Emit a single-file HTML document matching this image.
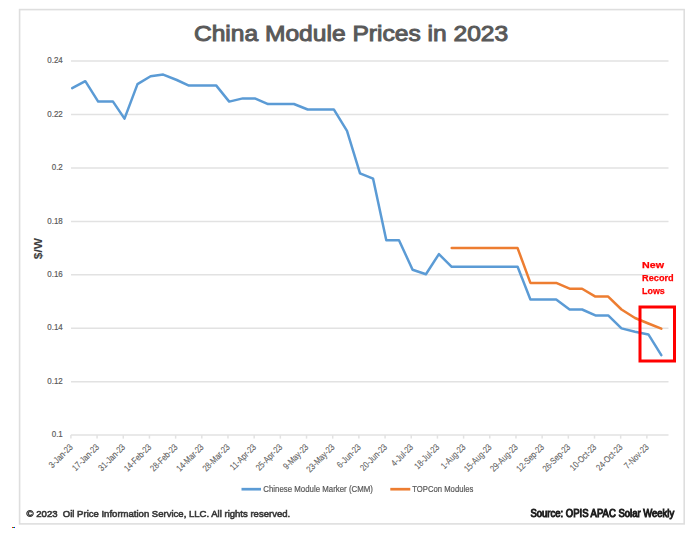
<!DOCTYPE html>
<html><head><meta charset="utf-8"><style>
html,body{margin:0;padding:0;background:#fff;}
body{width:696px;height:533px;overflow:hidden;position:relative;}
svg{position:absolute;left:0;top:0;filter:blur(0.3px);}
text{font-family:"Liberation Sans",sans-serif;}
.g{stroke:#e2e2e2;stroke-width:1.5;}
.yl{font-size:9.6px;fill:#595959;stroke:#595959;stroke-width:0.2px;}
.xl{font-size:9.2px;fill:#606060;stroke:#606060;stroke-width:0.1px;}
.ln{fill:none;stroke-width:2.5;stroke-linejoin:round;stroke-linecap:round;}
</style></head><body>
<svg width="696" height="533" viewBox="0 0 696 533">
<rect x="19.6" y="9.6" width="664.6" height="514.3" fill="#fff" stroke="#dedede" stroke-width="1.6"/>
<text x="193.90" y="41.30" textLength="314.30" lengthAdjust="spacingAndGlyphs" style="font-size:22.4px;fill:#595959;stroke:#595959;stroke-width:1.0px">China Module Prices in 2023</text>
<line x1="71" y1="61.1" x2="668.5" y2="61.1" class="g"/><line x1="71" y1="114.5" x2="668.5" y2="114.5" class="g"/><line x1="71" y1="168.0" x2="668.5" y2="168.0" class="g"/><line x1="71" y1="221.4" x2="668.5" y2="221.4" class="g"/><line x1="71" y1="274.8" x2="668.5" y2="274.8" class="g"/><line x1="71" y1="328.2" x2="668.5" y2="328.2" class="g"/><line x1="71" y1="381.7" x2="668.5" y2="381.7" class="g"/><line x1="70.9" y1="435.1" x2="668.5" y2="435.1" class="g"/>
<line x1="70.90" y1="435.1" x2="70.90" y2="438.6" class="g"/><line x1="97.08" y1="435.1" x2="97.08" y2="438.6" class="g"/><line x1="123.26" y1="435.1" x2="123.26" y2="438.6" class="g"/><line x1="149.44" y1="435.1" x2="149.44" y2="438.6" class="g"/><line x1="175.62" y1="435.1" x2="175.62" y2="438.6" class="g"/><line x1="201.80" y1="435.1" x2="201.80" y2="438.6" class="g"/><line x1="227.98" y1="435.1" x2="227.98" y2="438.6" class="g"/><line x1="254.16" y1="435.1" x2="254.16" y2="438.6" class="g"/><line x1="280.34" y1="435.1" x2="280.34" y2="438.6" class="g"/><line x1="306.52" y1="435.1" x2="306.52" y2="438.6" class="g"/><line x1="332.70" y1="435.1" x2="332.70" y2="438.6" class="g"/><line x1="358.88" y1="435.1" x2="358.88" y2="438.6" class="g"/><line x1="385.06" y1="435.1" x2="385.06" y2="438.6" class="g"/><line x1="411.24" y1="435.1" x2="411.24" y2="438.6" class="g"/><line x1="437.42" y1="435.1" x2="437.42" y2="438.6" class="g"/><line x1="463.60" y1="435.1" x2="463.60" y2="438.6" class="g"/><line x1="489.78" y1="435.1" x2="489.78" y2="438.6" class="g"/><line x1="515.96" y1="435.1" x2="515.96" y2="438.6" class="g"/><line x1="542.14" y1="435.1" x2="542.14" y2="438.6" class="g"/><line x1="568.32" y1="435.1" x2="568.32" y2="438.6" class="g"/><line x1="594.50" y1="435.1" x2="594.50" y2="438.6" class="g"/><line x1="620.68" y1="435.1" x2="620.68" y2="438.6" class="g"/><line x1="646.86" y1="435.1" x2="646.86" y2="438.6" class="g"/>
<text x="47.29" y="63.2" class="yl" textLength="15.51" lengthAdjust="spacingAndGlyphs">0.24</text><text x="47.29" y="116.6" class="yl" textLength="15.51" lengthAdjust="spacingAndGlyphs">0.22</text><text x="51.72" y="170.1" class="yl" textLength="11.08" lengthAdjust="spacingAndGlyphs">0.2</text><text x="47.29" y="223.5" class="yl" textLength="15.51" lengthAdjust="spacingAndGlyphs">0.18</text><text x="47.29" y="276.9" class="yl" textLength="15.51" lengthAdjust="spacingAndGlyphs">0.16</text><text x="47.29" y="330.4" class="yl" textLength="15.51" lengthAdjust="spacingAndGlyphs">0.14</text><text x="47.29" y="383.8" class="yl" textLength="15.51" lengthAdjust="spacingAndGlyphs">0.12</text><text x="51.72" y="437.2" class="yl" textLength="11.08" lengthAdjust="spacingAndGlyphs">0.1</text>
<text transform="translate(42.0,248.6) rotate(-90)" x="-10.6" textLength="21.2" lengthAdjust="spacingAndGlyphs" style="font-size:11.2px;font-weight:bold;fill:#404040">$/W</text>
<text transform="translate(73.40,447.71) rotate(-45)" x="-29.41" y="0" class="xl" textLength="29.41" lengthAdjust="spacingAndGlyphs">3-Jan-23</text><text transform="translate(99.58,447.71) rotate(-45)" x="-33.55" y="0" class="xl" textLength="33.55" lengthAdjust="spacingAndGlyphs">17-Jan-23</text><text transform="translate(125.76,447.71) rotate(-45)" x="-33.55" y="0" class="xl" textLength="33.55" lengthAdjust="spacingAndGlyphs">31-Jan-23</text><text transform="translate(151.94,447.71) rotate(-45)" x="-34.38" y="0" class="xl" textLength="34.38" lengthAdjust="spacingAndGlyphs">14-Feb-23</text><text transform="translate(178.12,447.71) rotate(-45)" x="-34.38" y="0" class="xl" textLength="34.38" lengthAdjust="spacingAndGlyphs">28-Feb-23</text><text transform="translate(204.30,447.71) rotate(-45)" x="-34.37" y="0" class="xl" textLength="34.37" lengthAdjust="spacingAndGlyphs">14-Mar-23</text><text transform="translate(230.48,447.71) rotate(-45)" x="-34.37" y="0" class="xl" textLength="34.37" lengthAdjust="spacingAndGlyphs">28-Mar-23</text><text transform="translate(256.66,447.71) rotate(-45)" x="-32.58" y="0" class="xl" textLength="32.58" lengthAdjust="spacingAndGlyphs">11-Apr-23</text><text transform="translate(282.84,447.71) rotate(-45)" x="-33.13" y="0" class="xl" textLength="33.13" lengthAdjust="spacingAndGlyphs">25-Apr-23</text><text transform="translate(309.02,447.71) rotate(-45)" x="-31.47" y="0" class="xl" textLength="31.47" lengthAdjust="spacingAndGlyphs">9-May-23</text><text transform="translate(335.20,447.71) rotate(-45)" x="-35.62" y="0" class="xl" textLength="35.62" lengthAdjust="spacingAndGlyphs">23-May-23</text><text transform="translate(361.38,447.71) rotate(-45)" x="-29.41" y="0" class="xl" textLength="29.41" lengthAdjust="spacingAndGlyphs">6-Jun-23</text><text transform="translate(387.56,447.71) rotate(-45)" x="-33.55" y="0" class="xl" textLength="33.55" lengthAdjust="spacingAndGlyphs">20-Jun-23</text><text transform="translate(413.74,447.71) rotate(-45)" x="-26.92" y="0" class="xl" textLength="26.92" lengthAdjust="spacingAndGlyphs">4-Jul-23</text><text transform="translate(439.92,447.71) rotate(-45)" x="-31.06" y="0" class="xl" textLength="31.06" lengthAdjust="spacingAndGlyphs">18-Jul-23</text><text transform="translate(466.10,447.71) rotate(-45)" x="-30.65" y="0" class="xl" textLength="30.65" lengthAdjust="spacingAndGlyphs">1-Aug-23</text><text transform="translate(492.28,447.71) rotate(-45)" x="-34.80" y="0" class="xl" textLength="34.80" lengthAdjust="spacingAndGlyphs">15-Aug-23</text><text transform="translate(518.46,447.71) rotate(-45)" x="-34.80" y="0" class="xl" textLength="34.80" lengthAdjust="spacingAndGlyphs">29-Aug-23</text><text transform="translate(544.64,447.71) rotate(-45)" x="-34.80" y="0" class="xl" textLength="34.80" lengthAdjust="spacingAndGlyphs">12-Sep-23</text><text transform="translate(570.82,447.71) rotate(-45)" x="-34.80" y="0" class="xl" textLength="34.80" lengthAdjust="spacingAndGlyphs">26-Sep-23</text><text transform="translate(597.00,447.71) rotate(-45)" x="-33.13" y="0" class="xl" textLength="33.13" lengthAdjust="spacingAndGlyphs">10-Oct-23</text><text transform="translate(623.18,447.71) rotate(-45)" x="-33.13" y="0" class="xl" textLength="33.13" lengthAdjust="spacingAndGlyphs">24-Oct-23</text><text transform="translate(649.36,447.71) rotate(-45)" x="-30.65" y="0" class="xl" textLength="30.65" lengthAdjust="spacingAndGlyphs">7-Nov-23</text>
<path d="M72.2,88.1 L85.3,81.2 L98.2,101.6 L113.0,101.6 L124.5,118.6 L137.5,84.1 L150.6,76.2 L163.2,74.6 L176.8,80.0 L188.9,85.6 L203.0,85.6 L216.1,85.4 L229.2,101.6 L242.8,98.4 L254.8,98.4 L268.0,104.1 L281.6,104.0 L293.9,104.0 L307.7,109.5 L320.9,109.5 L333.8,109.4 L347.0,130.9 L360.0,173.3 L373.1,178.7 L386.3,240.2 L399.0,240.2 L412.6,269.7 L425.9,274.3 L438.9,254.1 L451.7,266.8 L465.0,266.8 L478.1,266.8 L491.2,266.8 L504.3,266.8 L517.6,266.8 L530.4,299.5 L543.6,299.5 L556.2,299.5 L569.6,309.5 L582.1,309.5 L595.4,315.4 L608.2,315.4 L621.5,328.4 L635.0,331.7 L648.4,334.4 L661.3,355.1" class="ln" stroke="#5b9bd5"/>
<path d="M451.7,248.1 L465.0,248.1 L478.1,248.1 L491.2,248.1 L504.3,248.1 L517.6,248.1 L530.4,282.9 L543.6,282.9 L556.2,282.9 L569.6,288.7 L582.1,288.7 L595.4,296.6 L608.2,296.6 L621.5,309.5 L635.0,318.0 L648.4,323.5 L661.3,328.7" class="ln" stroke="#ed7d31"/>
<rect x="640" y="307" width="34.5" height="54" fill="none" stroke="#ff0000" stroke-width="3"/>
<text x="642.10" y="267.60" textLength="22.00" lengthAdjust="spacingAndGlyphs" style="font-size:9.2px;font-weight:bold;fill:#ff0000;stroke:#ff0000;stroke-width:0.25px">New</text><text x="642.10" y="280.50" textLength="31.60" lengthAdjust="spacingAndGlyphs" style="font-size:9.2px;font-weight:bold;fill:#ff0000;stroke:#ff0000;stroke-width:0.25px">Record</text><text x="642.10" y="293.80" textLength="22.70" lengthAdjust="spacingAndGlyphs" style="font-size:9.2px;font-weight:bold;fill:#ff0000;stroke:#ff0000;stroke-width:0.25px">Lows</text>
<line x1="241.5" y1="489.2" x2="261" y2="489.2" stroke="#5b9bd5" stroke-width="2.7"/>
<line x1="390.3" y1="489.2" x2="410.3" y2="489.2" stroke="#ed7d31" stroke-width="2.7"/>
<text x="263.30" y="491.80" textLength="109.60" lengthAdjust="spacingAndGlyphs" style="font-size:8.6px;fill:#595959;stroke:#595959;stroke-width:0.2px">Chinese Module Marker (CMM)</text><text x="412.30" y="491.80" textLength="61.00" lengthAdjust="spacingAndGlyphs" style="font-size:8.6px;fill:#595959;stroke:#595959;stroke-width:0.2px">TOPCon Modules</text>
<text x="26.60" y="517.30" textLength="263.60" lengthAdjust="spacingAndGlyphs" style="font-size:9.8px;white-space:pre;fill:#383838;stroke:#383838;stroke-width:0.6px">© 2023  Oil Price Information Service, LLC. All rights reserved.</text><text x="530.40" y="517.20" textLength="143.80" lengthAdjust="spacingAndGlyphs" style="font-size:10.0px;fill:#202020;stroke:#202020;stroke-width:0.95px">Source: OPIS APAC Solar Weekly</text>
<rect x="12" y="527" width="1" height="1" fill="#f00"/><rect x="13" y="527" width="1" height="1" fill="#0c0"/><rect x="14" y="527" width="1" height="1" fill="#00f"/>
</svg>
</body></html>
